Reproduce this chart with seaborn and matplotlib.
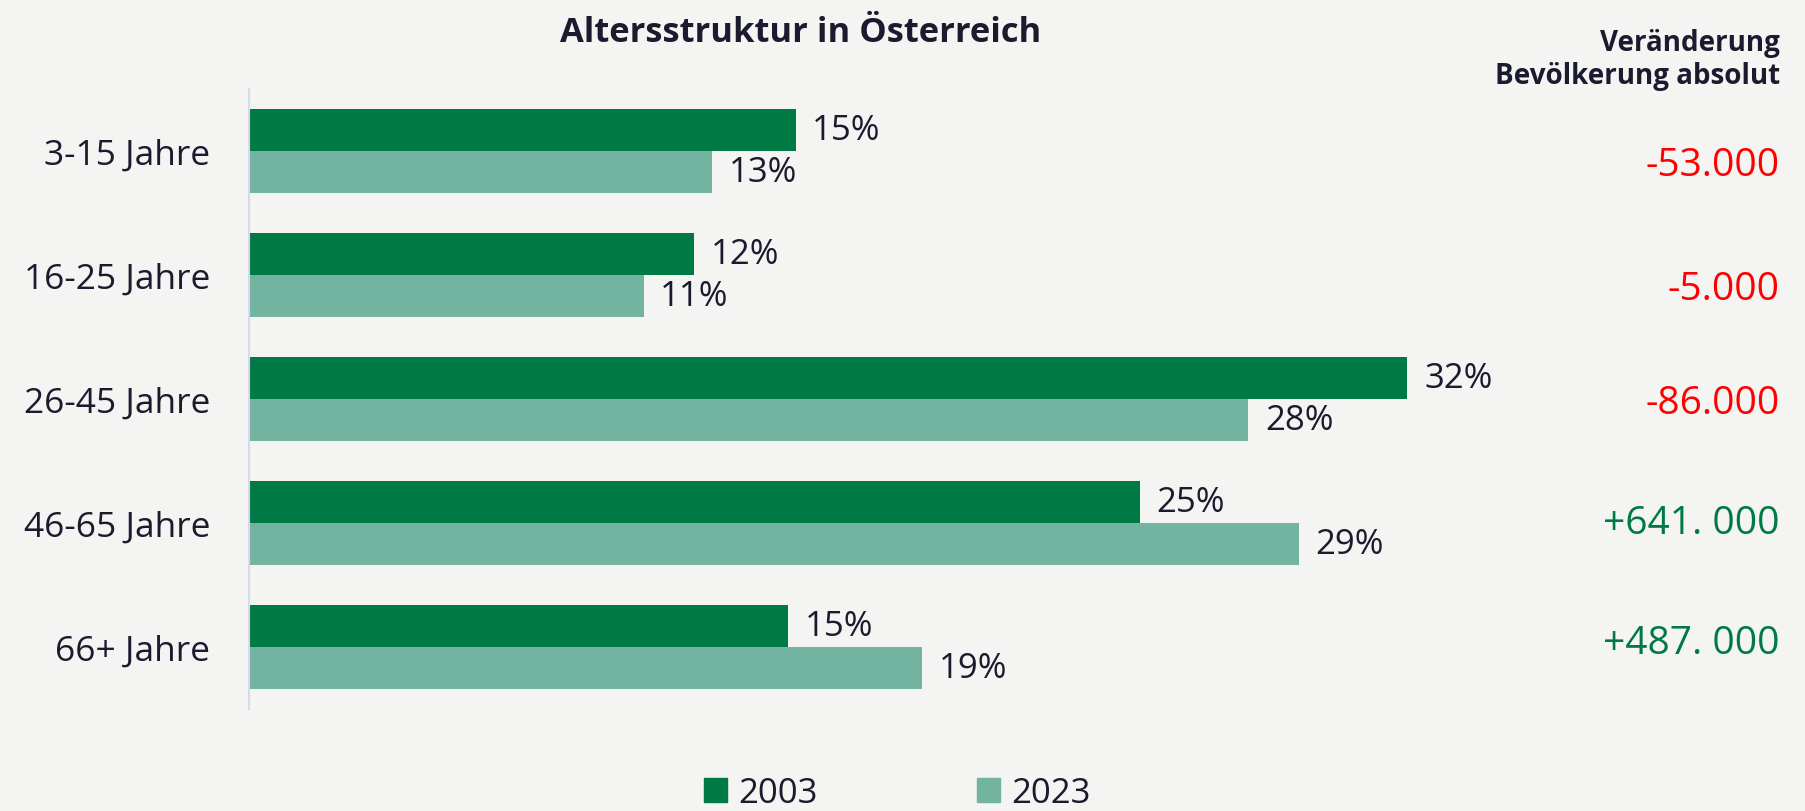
import pandas as pd
import numpy as np
import matplotlib
matplotlib.use("Agg")
import matplotlib.pyplot as plt
import seaborn as sns

# Data
altersgruppen = ["3-15 Jahre", "16-25 Jahre", "26-45 Jahre", "46-65 Jahre", "66+ Jahre"]
anteil_2003 = [15.1, 12.3, 32.0, 24.6, 14.9]
anteil_2023 = [12.8, 10.9, 27.6, 29.0, 18.6]
jahre = ["2003", "2023"]
veraenderung = ["-53.000", "-5.000", "-86.000", "+641. 000", "+487. 000"]

DARK = "#007A45"
LIGHT = "#72B4A0"
RED = "#FF0000"
TEXT = "#1B1B2F"
BG = "#F4F4F2"
W, H = 1806, 812

df = pd.DataFrame({
    "Alter": altersgruppen * 2,
    "Jahr": [jahre[0]] * len(altersgruppen) + [jahre[1]] * len(altersgruppen),
    "Anteil": anteil_2003 + anteil_2023,
})

sns.set_theme(style="white")
plt.rcParams["font.family"] = ["Open Sans", "DejaVu Sans"]

fig = plt.figure(figsize=(W / 100, H / 100), dpi=100, facecolor=BG)
ax = fig.add_axes([249 / W, 102 / H, 1251 / W, 620 / H])
ax.set_facecolor(BG)

sns.barplot(data=df, y="Alter", x="Anteil", hue="Jahr", orient="h",
            order=altersgruppen, hue_order=jahre,
            palette=[DARK, LIGHT], saturation=1, width=0.67, ax=ax,
            legend=False, linewidth=0)

for cont in ax.containers:
    labels = [f"{b.get_width():.0f}%" for b in cont]
    ax.bar_label(cont, labels=labels, padding=12, fontsize=25, color=TEXT)

ax.set_xlim(0, 1251 / 36.2)
ax.set_ylim(4.5, -0.5)
ax.set_xlabel("")
ax.set_ylabel("")
ax.set_xticks([])
ax.tick_params(axis="y", length=0, pad=28, labelsize=25.5, labelcolor=TEXT)
for s in ["top", "right", "bottom"]:
    ax.spines[s].set_visible(False)
ax.spines["left"].set_color("#D8D8EE")
ax.spines["left"].set_linewidth(1.5)

# right-hand column with absolute change (its own even spacing, baselines in px)
baselines = [176, 300, 414, 534, 654]
for txt, yb in zip(veraenderung, baselines):
    col = RED if txt.startswith("-") else DARK
    fig.text(1780 / W, 1 - yb / H, txt, ha="right", va="baseline",
             fontsize=28, color=col)

fig.text(1780 / W, 1 - 51 / H, "Veränderung", ha="right", va="baseline",
         fontsize=20, fontweight="bold", color=TEXT)
fig.text(1780 / W, 1 - 84 / H, "Bevölkerung absolut", ha="right", va="baseline",
         fontsize=20, fontweight="bold", color=TEXT)

fig.text(801 / W, 1 - 42 / H, "Altersstruktur in Österreich", ha="center",
         va="baseline", fontsize=24.8, fontweight="bold", color=TEXT)

handles = [plt.Rectangle((0, 0), 1, 1, color=DARK), plt.Rectangle((0, 0), 1, 1, color=LIGHT)]
fig.legend(handles, jahre, loc="center", bbox_to_anchor=(897 / W, 1 - 794 / H),
           ncol=2, frameon=False, fontsize=25, labelcolor=TEXT,
           handlelength=0.66, handleheight=0.66, handletextpad=0.32, columnspacing=4.6,
           borderpad=0)

fig.savefig("out.png", dpi=100, facecolor=BG)
